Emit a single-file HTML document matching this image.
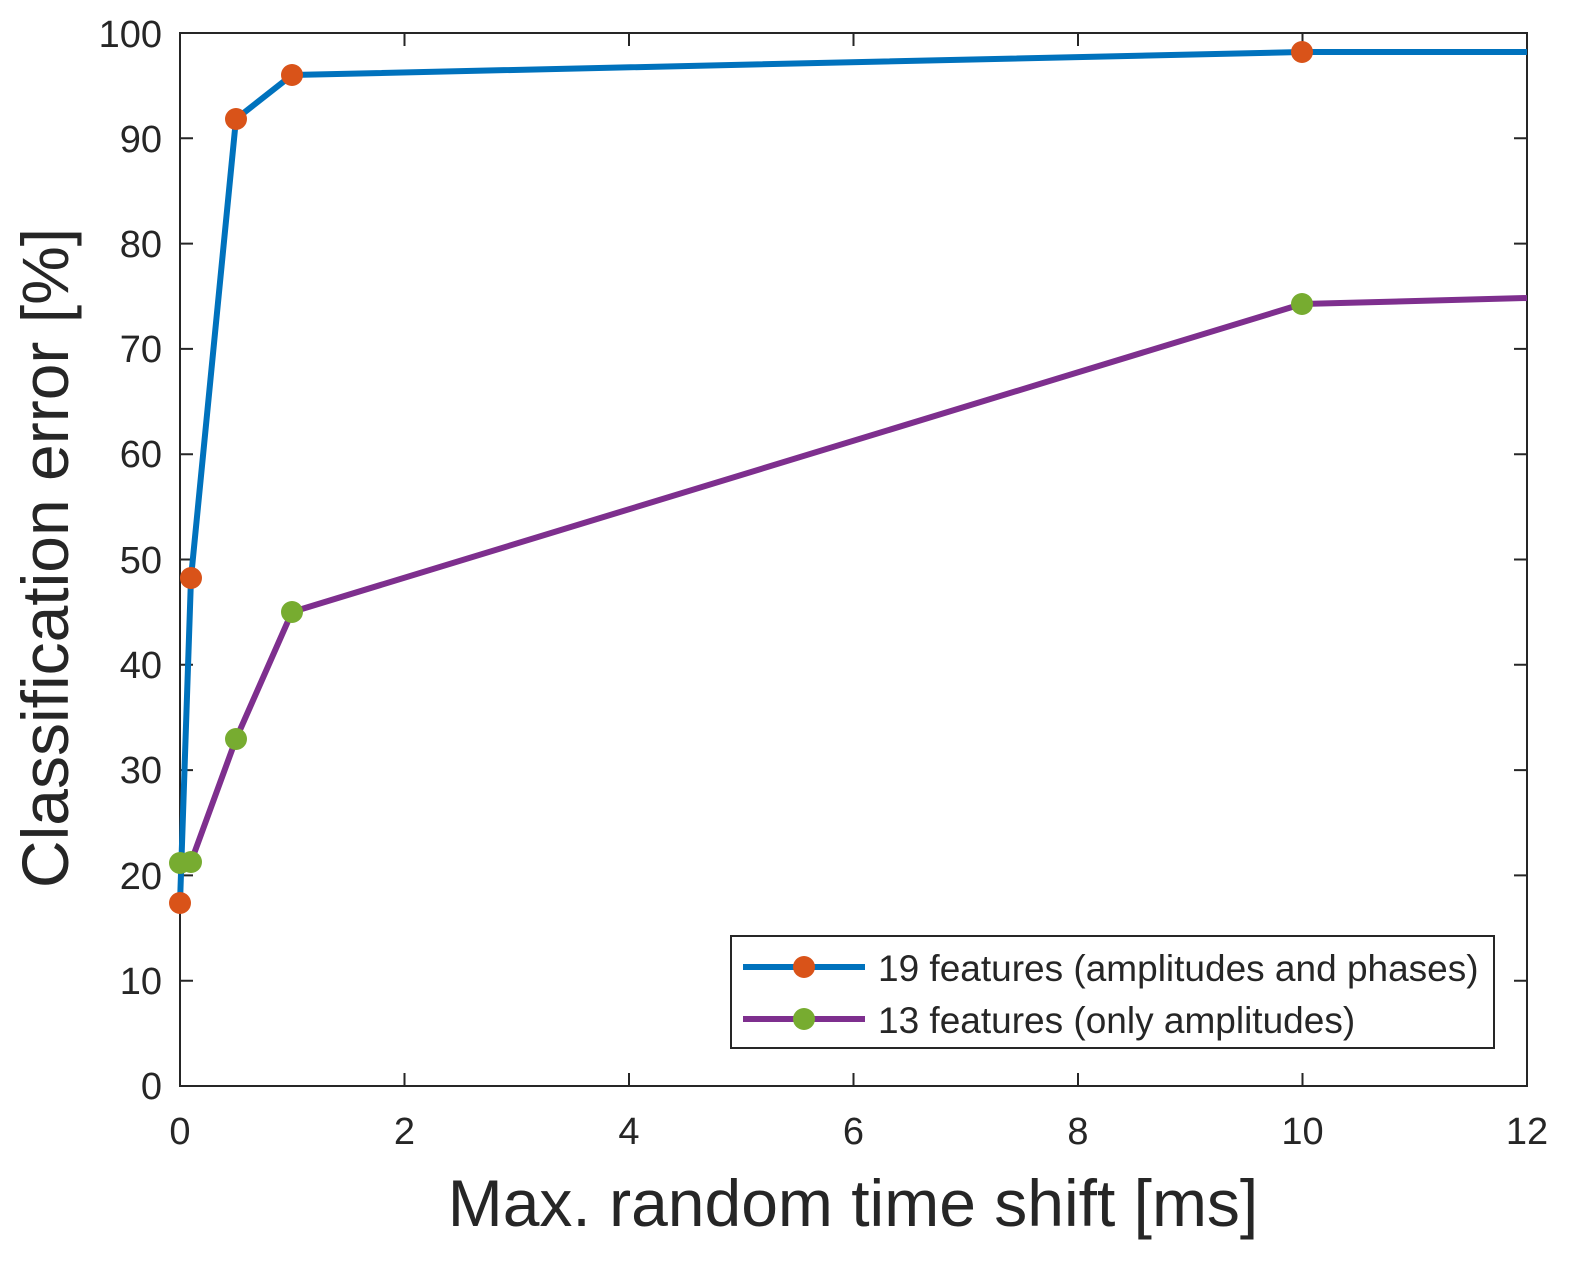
<!DOCTYPE html>
<html><head><style>body{margin:0;background:#fff}svg{display:block}</style></head><body>
<svg width="1577" height="1265" xmlns="http://www.w3.org/2000/svg" font-family="Liberation Sans, Arial, sans-serif">
<rect width="1577" height="1265" fill="#fff"/>
<g stroke="#262626" stroke-width="2" fill="none">
<rect x="180" y="33" width="1347" height="1053"/>
<path d="M180 980.7h13M180 875.4h13M180 770.1h13M180 664.8h13M180 559.5h13M180 454.2h13M180 348.9h13M180 243.6h13M180 138.3h13
M1527 980.7h-13M1527 875.4h-13M1527 770.1h-13M1527 664.8h-13M1527 559.5h-13M1527 454.2h-13M1527 348.9h-13M1527 243.6h-13M1527 138.3h-13
M404.5 1086v-13M629 1086v-13M853.5 1086v-13M1078 1086v-13M1302.5 1086v-13
M404.5 33v13M629 33v13M853.5 33v13M1078 33v13M1302.5 33v13"/>
</g>
<g font-size="38" fill="#262626" text-anchor="end">
<text x="162" y="1099">0</text><text x="162" y="994">10</text><text x="162" y="889">20</text><text x="162" y="783">30</text><text x="162" y="678">40</text><text x="162" y="573">50</text><text x="162" y="467">60</text><text x="162" y="362">70</text><text x="162" y="257">80</text><text x="162" y="152">90</text><text x="162" y="47">100</text>
</g>
<g font-size="38" fill="#262626" text-anchor="middle">
<text x="180" y="1144">0</text><text x="404.5" y="1144">2</text><text x="629" y="1144">4</text><text x="853.5" y="1144">6</text><text x="1078" y="1144">8</text><text x="1302.5" y="1144">10</text><text x="1527" y="1144">12</text>
</g>
<text x="853" y="1226" font-size="66" fill="#262626" text-anchor="middle">Max. random time shift [ms]</text>
<text transform="translate(68,558) rotate(-90)" font-size="66" fill="#262626" text-anchor="middle">Classification error [%]</text>
<polyline points="180,903 191,578 236,119 292,75 1302,52 1527,52" fill="none" stroke="#0072BD" stroke-width="6" stroke-linejoin="round"/>
<polyline points="180,863 191,862 236,739 292,612 1302,304 1527,298" fill="none" stroke="#7E2F8E" stroke-width="6" stroke-linejoin="round"/>
<g fill="#D95319"><circle cx="180" cy="903" r="11"/><circle cx="191" cy="578" r="11"/><circle cx="236" cy="119" r="11"/><circle cx="292" cy="75" r="11"/><circle cx="1302" cy="52" r="11"/></g>
<g fill="#77AC30"><circle cx="180" cy="863" r="11"/><circle cx="191" cy="862" r="11"/><circle cx="236" cy="739" r="11"/><circle cx="292" cy="612" r="11"/><circle cx="1302" cy="304" r="11"/></g>
<rect x="731" y="936" width="763" height="112" fill="#fff" stroke="#262626" stroke-width="2"/>
<line x1="743" y1="967" x2="865" y2="967" stroke="#0072BD" stroke-width="6"/>
<circle cx="804" cy="967" r="11" fill="#D95319"/>
<line x1="743" y1="1019" x2="865" y2="1019" stroke="#7E2F8E" stroke-width="6"/>
<circle cx="804" cy="1019" r="11" fill="#77AC30"/>
<text x="878" y="981" font-size="37" fill="#262626">19 features (amplitudes and phases)</text>
<text x="878" y="1033" font-size="37" fill="#262626">13 features (only amplitudes)</text>
</svg>
</body></html>
